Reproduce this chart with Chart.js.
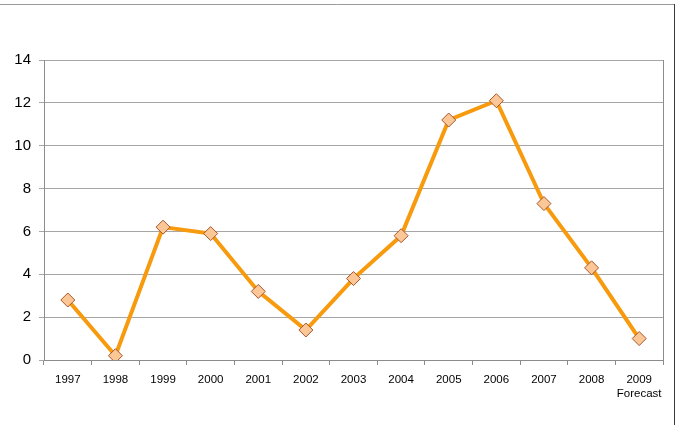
<!DOCTYPE html>
<html>
<head>
<meta charset="utf-8">
<script src="https://cdn.jsdelivr.net/npm/chart.js@4"></script>
<style>
  html, body { margin: 0; padding: 0; background: #fff; }
  #wrap { width: 676px; height: 425px; }
</style>
</head>
<body>
<div id="wrap"><canvas id="chart" width="676" height="425"></canvas></div>
<script>
const years = ["1997", "1998", "1999", "2000", "2001", "2002", "2003", "2004", "2005", "2006", "2007", "2008", ["2009", "Forecast"]]
const values = [2.8, 0.2, 6.2, 5.9, 3.2, 1.4, 3.8, 5.8, 11.2, 12.1, 7.3, 4.3, 1.0]
const yTicks = [0, 2, 4, 6, 8, 10, 12, 14]

// outer frame (top + right only, as in the source) + right edge of plot area
const frame = {
  id: "frame",
  afterDraw(chart) {
    const { ctx, chartArea } = chart
    ctx.save()
    ctx.lineWidth = 1
    ctx.strokeStyle = "#9a9a9a"
    ctx.beginPath()
    ctx.moveTo(0, 4.5)
    ctx.lineTo(675, 4.5)
    ctx.stroke()
    ctx.strokeStyle = "#3a3a3a"
    ctx.beginPath()
    ctx.moveTo(674.5, 4)
    ctx.lineTo(674.5, chart.height)
    ctx.stroke()
    ctx.strokeStyle = "#8c8c8c"
    ctx.beginPath()
    ctx.moveTo(Math.round(chartArea.right) + 0.5, chartArea.top)
    ctx.lineTo(Math.round(chartArea.right) + 0.5, chartArea.bottom)
    ctx.stroke()
    ctx.restore()
  }
}

new Chart(document.getElementById("chart"), {
  type: "line",
  data: {
    labels: years,
    datasets: [
      {
        data: values,
        borderColor: "#f79a0d",
        borderWidth: 4,
        tension: 0,
        fill: false,
        pointStyle: "rectRot",
        pointRadius: 7,
        pointHoverRadius: 7,
        pointBackgroundColor: "#fcc797",
        pointBorderColor: "#a8542a",
        pointBorderWidth: 1
      }
    ]
  },
  options: {
    responsive: false,
    animation: false,
    layout: { padding: { top: 60, right: 13, left: 0, bottom: 0 } },
    scales: {
      x: {
        offset: true,
        afterFit: (s) => { s.height = 65 },
        grid: { offset: true, drawOnChartArea: false, drawTicks: true, tickLength: 5, color: "#8c8c8c" },
        border: { color: "#8c8c8c" },
        ticks: { color: "#000", font: { family: "Arial, Liberation Sans", size: 11.5 }, padding: 8, maxRotation: 0, autoSkip: false }
      },
      y: {
        min: 0,
        max: 14,
        afterFit: (s) => { s.width = 44 },
        afterBuildTicks: (s) => { s.ticks = yTicks.map((v) => ({ value: v })) },
        grid: { color: "#a6a6a6", tickLength: 5 },
        border: { color: "#8c8c8c" },
        ticks: { color: "#000", font: { family: "Arial, Liberation Sans", size: 15 }, padding: 8 }
      }
    },
    plugins: {
      legend: { display: false },
      tooltip: { enabled: false }
    }
  },
  plugins: [frame]
})
</script>
</body>
</html>
